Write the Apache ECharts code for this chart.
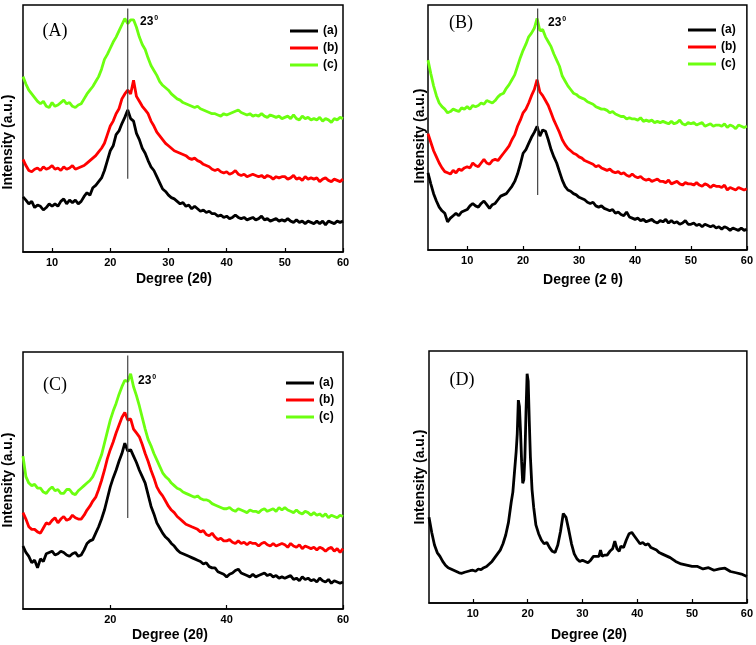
<!DOCTYPE html>
<html><head><meta charset="utf-8">
<script src="https://cdn.jsdelivr.net/npm/echarts@6/dist/echarts.min.js"></script>
<style>html,body{margin:0;padding:0;background:#fff}#c{width:756px;height:645px}</style>
</head><body><div id="c"></div>
<script>
// ---------- DATA (values are relative intensities 0-100 of each panel's height) ----------
// Panel A: 2θ from 5 to 60, step 0.5
const aStart = 5;
const aBlack = [
22.3,21,19.5,20.5,18,19,18.5,17,18,19.5,
18.5,19.5,18.5,20.5,21.5,19.5,21,20,21,19.5,
20.5,22.5,24,23,26,27,28.5,30,33,37,
41,43,47.5,49,52,54.5,57.5,54,53,48,
45.5,42,40,37,34.5,33,30.5,28,25.5,24.5,
23,22,21.5,20.5,19.5,20,18.5,19,17.5,18.5,
17.5,16.5,17,16,16.5,15.5,15.5,14.5,15,14,
14.5,13.5,14,15,14,13.5,14,13,13.5,14,
13,13.5,14.5,13,13.5,12.5,13,13.5,12.5,13,
12.5,13.5,12.5,12,13,12,12.5,11.5,12.5,12,
11.5,12.5,11.5,12.5,11,12.5,12,11.5,12.5,12,
12.5];
const aRed = [
37.5,35,33,32.5,33.5,34,33,34.5,33.5,34,
35,33.5,34,33,34.5,33.5,34,35,33.5,34,
34.5,35,36,37,38,39,40.5,42,44,47.5,
51,53,56,58,62,64,65.5,64,69.5,63,
61,59,57.5,56,53,51,48.5,47,45.5,44,
43,42,41,40.5,40,39.5,39,38,37.5,38,
37,36.5,35.5,35,34.5,33.5,33,33.5,32.5,32,
32.5,31.5,32,33,31.5,31,31.5,30.5,31,31.5,
31,30.5,31,30,31,30.5,29.5,30.5,30,30.5,
30.5,29.5,30,31,29.5,30,29,30.5,29.5,30,
29.5,30,28.5,29.5,30,29,28.5,29.5,29,28.5,
29.5];
const aGreen = [
71,68,65.5,64,62.5,61,60,61,59,58.5,
60.5,59,59.5,60.5,61.5,60,60.5,59,58.5,59.5,
60,62,64,65.5,67,69,71,74,78,80,
82.5,85,87,89.5,92,94.5,92.5,94,94,91,
87,84,82,78.5,75.5,73.5,71.5,69,67.5,66.5,
65.5,64,63,62,61.5,60.5,60,59.5,59,58.5,
59,58,57.5,57,56.5,56,56,55.5,55,56,
55.5,56,56.5,57,57.5,56.5,56,55.5,56,55,
55.5,55,56,55,54.5,55.5,55,54.5,55,54,
54.5,55,54,55.5,54,53.5,55,54,54.5,53.5,
54,53.5,54.5,53,54,53.5,52.5,54,53.5,54.5,
54];
// Panel B: 2θ from 3 to 60, step 0.5
const bStart = 3;
const bBlack = [
31.5,27,23,20,
17.5,16,15,11.5,13,14,15,14,15.5,16,
16.5,18,19,18,17.5,19,20,18.5,17,18.5,
19,20.5,22,22.5,23,24.5,26,28,31,35,
39.5,41,43.5,46,48,50.5,46.5,49,48.5,45,
41,38,35.5,32,28.5,26,24.5,24,23,22.5,
21.5,21,20.5,19.5,19,19.5,18,17.5,18,17,
16.5,16,16.5,15,15.5,14.5,14,15.5,13.5,13,
12.5,13,12,12.5,11.5,12,12.5,11.5,11,12,
11.5,12.5,11,12,11,11.5,10.5,11,12,10.5,
10.5,11,10,10.5,9.5,10.5,10,9.5,10,9,
9.5,8.5,9.5,9,8,9,8.5,8,9,8,
8.5];
const bRed = [
47.5,44,40.5,38,
35.5,33.5,32,31.5,31,32.5,31.5,33,32.5,33.5,
34,33.5,35.5,34.5,34,35.5,37,35.5,35,36.5,
37,36.5,38,39.5,41,42.5,45,47,50.5,53,
56,57.5,60,63,65.5,69.5,64.5,63,61,59,
56,53,50.5,48,45,43,41.5,40.5,39.5,39,
38,37.5,36.5,36,35.5,35,34,34.5,33.5,33,
32.5,33,32,31.5,32,31,31.5,30.5,30,31,
30,29.5,30,29,28.5,29,28,28.5,29,28,
28,27.5,28.5,27,27.5,28,27,26.5,27.5,27,
27,26.5,27.5,26.5,26,27,26.5,25.5,26.5,26,
26,25.5,26.5,24.5,25.5,25,24.5,25.5,25,24.5,
25];
const bGreen = [
77.5,72,67,63,
60,58.5,57.5,56,56.5,57.5,57,56.5,58,57.5,
58.5,57.5,59,58.5,59,60,59.5,61,60.5,60,
61,62.5,63.5,64,66,67.5,69.5,71.5,75,78.5,
81.5,84,87,88.5,90.5,94.5,89.5,90,87,85,
83,80,77.5,75,71,69,67,65.5,64,63.5,
62.5,62,61.5,60.5,60,59.5,58.5,58,57.5,57.5,
57,56,56.5,55.5,55,54.5,54.5,53.5,54,53.5,
53.5,53,54,52.5,53,52.5,53,52,52.5,52,
52.5,52,51.5,52.5,51.5,52,53,51.5,51,52,
51.5,52,51,51.5,52,50.5,51,51.5,50.5,51,
51,50.5,51.5,50,51,50.5,49.5,51,50.5,50,
50.5];
// Panel C: 2θ from 5 to 60, step 0.5
const cStart = 5;
const cBlack = [
24.5,22,20.5,18,19,16,19.5,18.5,21.5,22,
22.5,21,21.5,22.5,22,21,20.5,21.5,22,20.5,
21,23,25.5,26.5,27,29.5,32,35,38.5,43,
47.5,51,54,57.5,60.5,64.5,61.5,62,59.5,57,
54,51.5,49,44.5,40,37,33.5,31.5,29.5,28,
27,25.5,24.5,23,22,21.5,21,20.5,20,19.5,
19,18.5,17.5,18,16.5,16,16,14.5,14,13.5,
12.5,13.5,14,15,15.5,14,13.5,13,12.5,13.5,
12.5,13,13.5,14,13,13.5,12.5,13,12,12.5,
12,12.5,13,11.5,12,11,12.5,11.5,12,11,
11.5,10.5,12,11,10.5,11.5,10,11,10.5,10,
10.5];
const cRed = [
37.5,35,32,31,31,30,29.5,31.5,33.5,33,
34.5,35.5,33.5,35,36,34.5,35,36.5,35.5,35,
35,36.5,38.5,40,42,43.5,46.5,50,54,58.5,
62,65,68.5,71.5,74.5,76.5,73.5,74,70,68.5,
67,64,60.5,57.5,54,51,47.5,45.5,44,42,
40,38.5,37.5,36,35,34,33,32.5,32,31.5,
31,30,30.5,29,28.5,29.5,28,27,27.5,26.5,
26.5,27,26,25.5,26.5,25.5,26,25,26,25.5,
25.5,24.5,25.5,26,25,24.5,25.5,24.5,25,25.5,
25,24,25.5,24.5,24,25,23.5,24.5,24,23.5,
24,23,24,23.5,22.5,23.5,24,22.5,23.5,22,
23.5];
const cGreen = [
59.5,51.5,49,48,48.5,47,47,45.5,45,46.5,
47.5,46,46.5,45,45,46.5,46.5,45,44.5,46,
47,48,49,50,51.5,54,57,60,64.5,69,
73.5,77,80,83.5,86.5,89,88.5,91.5,86.5,83,
79,74.5,70,66,63.5,60.5,58,55.5,53,51.5,
50.5,49,48,47,46.5,45.5,45,44.5,44,43.5,
44,43,42.5,42.5,42,41,40.5,40,39.5,39,
39,39.5,38.5,38,39,38.5,38,37.5,38.5,38,
38,37.5,38.5,39,38,38.5,39,38,39.5,38.5,
39.5,38.5,38,37.5,38.5,37.5,37,38,37.5,36.5,
37.5,36.5,37,36,37,35.5,36.5,36,35.5,36.5,
36];
// Panel D: [2θ, intensity]
const dCurve = [
[2,34],[2.5,28],[3,23],[3.5,20],[4,18.5],[4.5,16.5],[5,15],[5.5,14],[6,13.5],[6.5,13],[7,12.5],[7.5,12],[8,11.8],[8.5,12.2],[9,12.5],[9.5,12.8],[10,13],[10.5,12.6],[11,13.5],[11.5,13.2],[12,14],[12.5,14.5],[13,15.5],[13.5,16.5],[14,18],[14.5,19.5],[15,21],[15.5,23.5],[16,27],[16.5,32],[17,40],[17.3,44],[17.6,52],[17.9,60],[18.1,67],[18.3,80.5],[18.5,78],[18.7,68],[18.9,56],[19.1,47.5],[19.3,49],[19.5,58],[19.7,76],[19.9,91],[20.1,88],[20.3,72],[20.5,58],[20.8,45],[21.1,38],[21.5,31],[22,27.5],[22.5,25],[23,23.5],[23.5,24],[24,22],[24.5,20.5],[25,20],[25.5,23],[26,28.5],[26.5,35.5],[27,34],[27.5,29],[28,23.5],[28.5,19.5],[29,17.5],[29.5,16.5],[30,17],[30.5,16.5],[31,16],[31.5,17],[32,18.5],[32.5,18.5],[33,18.5],[33.3,21],[33.6,18.5],[34,19],[34.5,19],[35,20.5],[35.5,21.5],[35.9,24.5],[36.3,21.5],[36.7,20.5],[37,22.5],[37.5,22],[38,25],[38.5,27.5],[39,28],[39.5,26.5],[40,25],[40.5,23.5],[41,24],[41.5,23],[42,23.5],[42.5,22],[43,21.5],[43.5,21],[44,20],[44.5,19.5],[45,19],[46,18],[47,16.5],[48,15.5],[49,15],[50,14.5],[51,14.5],[52,13.5],[53,14],[54,13],[55,13.5],[56,13.8],[57,12.5],[58,12],[59,11.5],[60,10.5]];
// reference lines at 23°
const refA = [[23,29.7],[23,98.6]];
const refB = [[22.6,22.4],[22.6,98.6]];
const refC = [[23,35.4],[23,98.6]];
// tick labels
const ticks10 = [10,20,30,40,50,60];
const ticks20 = [20,40,60];
const seriesNames = ['(a)','(b)','(c)'];
const colors = ['#000000','#ff0000','#6cff10'];

// ---------- CHART ----------
const step = 0.5;
const toPairs = (start, vals) => vals.map((v, i) => [start + i * step, v]);
const FONT = 'Liberation Sans, Arial, sans-serif';

const grids = [
  {left: 23, top: 5, width: 320, height: 247},
  {left: 428, top: 5, width: 319, height: 245},
  {left: 23, top: 352, width: 320, height: 257},
  {left: 429, top: 351, width: 319, height: 252}
].map(g => Object.assign(g, {show: true, borderColor: '#000', borderWidth: 1.5, backgroundColor: 'transparent'}));

const xRanges = [[5,60,ticks10],[3,60,ticks10],[5,60,ticks20],[2,60,ticks10]];
const xAxes = xRanges.map((r, i) => ({
  type: 'value', gridIndex: i, min: r[0], max: r[1],
  axisLine: {show: true, onZero: false, lineStyle: {color: '#000', width: 1.5}},
  axisTick: {show: true, inside: true, length: 4, customValues: r[2], lineStyle: {color: '#000', width: 1.2}},
  axisLabel: {show: true, margin: 5, customValues: r[2], fontSize: 11, fontWeight: 'bold', fontFamily: FONT, color: '#000'},
  splitLine: {show: false}
}));
const yAxes = [0,1,2,3].map(i => ({
  type: 'value', gridIndex: i, min: 0, max: 100,
  axisLine: {show: false}, axisTick: {show: false}, axisLabel: {show: false}, splitLine: {show: false}
}));

const series = [];
const panels = [[aStart,[aBlack,aRed,aGreen],refA],[bStart,[bBlack,bRed,bGreen],refB],[cStart,[cBlack,cRed,cGreen],refC]];
panels.forEach((p, gi) => {
  p[1].forEach((vals, k) => {
    series.push({
      type: 'line', name: seriesNames[k], xAxisIndex: gi, yAxisIndex: gi,
      data: toPairs(p[0], vals), showSymbol: false, color: colors[k],
      lineStyle: {width: 2.8, color: colors[k]}, z: 2
    });
  });
  series.push({
    type: 'line', name: 'ref' + gi, xAxisIndex: gi, yAxisIndex: gi, data: p[2],
    showSymbol: false, lineStyle: {width: 1.2, color: '#444'}, z: 5
  });
});
series.push({
  type: 'line', name: 'D', xAxisIndex: 3, yAxisIndex: 3, data: dCurve,
  showSymbol: false, lineStyle: {width: 2.8, color: '#000'}
});

const legendBase = {
  orient: 'vertical', data: seriesNames, icon: 'rect', itemWidth: 28, itemHeight: 3, itemGap: 3,
  selectedMode: false,
  textStyle: {fontSize: 12, fontWeight: 'bold', fontFamily: FONT, color: '#000', lineHeight: 14}
};
const legends = [
  Object.assign({left: 285, top: 19}, legendBase),
  Object.assign({left: 683, top: 18}, legendBase),
  Object.assign({left: 281, top: 371}, legendBase)
];

const txt = (x, y, text, opts) => ({
  type: 'text', x: x, y: y, rotation: opts.rot || 0,
  style: {text: text, font: opts.font, fill: '#000', align: opts.align || 'center', verticalAlign: 'middle', rich: opts.rich}
});
const titleFont = 'bold 14px ' + FONT;
const panelFont = '18px Liberation Serif, Times New Roman, serif';
const degRich = {n: {font: 'bold 12px ' + FONT, fill: '#000'}, s: {font: 'bold 7px ' + FONT, fill: '#000', verticalAlign: 'top', padding: [0,0,8,1]}};
const graphic = [
  txt(8, 142, 'Intensity (a.u.)', {font: titleFont, rot: Math.PI / 2}),
  txt(420, 136, 'Intensity (a.u.)', {font: titleFont, rot: Math.PI / 2}),
  txt(8, 480, 'Intensity (a.u.)', {font: titleFont, rot: Math.PI / 2}),
  txt(420, 477, 'Intensity (a.u.)', {font: titleFont, rot: Math.PI / 2}),
  txt(174, 279, 'Degree (2θ)', {font: titleFont}),
  txt(583, 280, 'Degree (2 θ)', {font: titleFont}),
  txt(170, 635, 'Degree (2θ)', {font: titleFont}),
  txt(589, 635, 'Degree (2θ)', {font: titleFont}),
  txt(55, 31, '(A)', {font: panelFont}),
  txt(461, 23, '(B)', {font: panelFont}),
  txt(55, 385, '(C)', {font: panelFont}),
  txt(462, 380, '(D)', {font: panelFont}),
  txt(140, 22, '{n|23}{s|0}', {align: 'left', rich: degRich}),
  txt(548, 23, '{n|23}{s|0}', {align: 'left', rich: degRich}),
  txt(138, 381, '{n|23}{s|0}', {align: 'left', rich: degRich})
];

const chart = echarts.init(document.getElementById('c'));
chart.setOption({
  animation: false, backgroundColor: '#fff',
  grid: grids, xAxis: xAxes, yAxis: yAxes, legend: legends, series: series, graphic: graphic
});
</script></body></html>
